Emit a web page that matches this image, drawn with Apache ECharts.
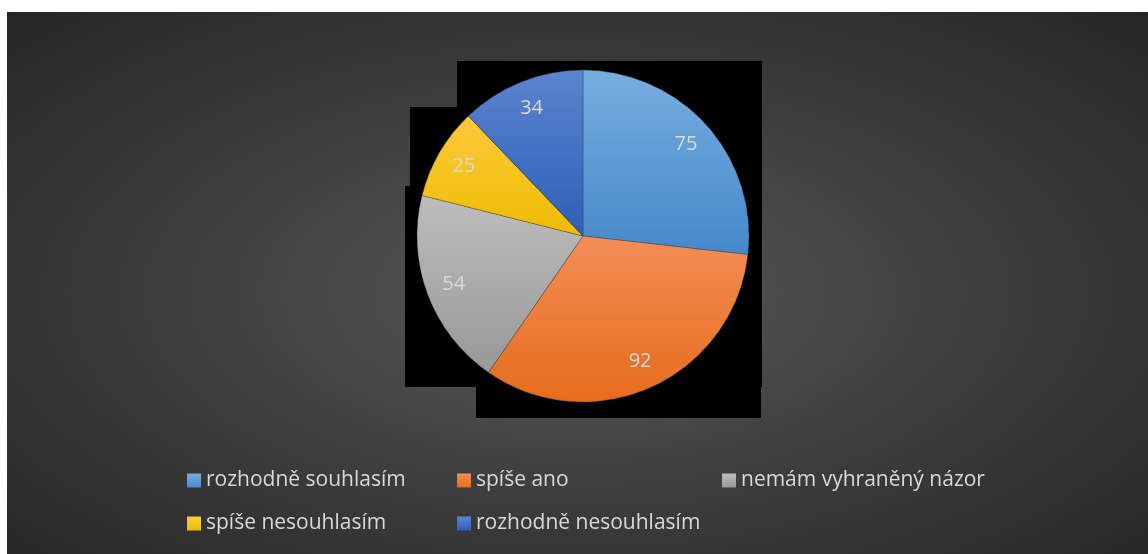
<!DOCTYPE html>
<html>
<head>
<meta charset="utf-8">
<script src="https://cdn.jsdelivr.net/npm/echarts@6/dist/echarts.min.js"></script>
<style>
  html, body { margin: 0; padding: 0; background: #fff; }
  #chart {
    position: absolute; left: 7px; top: 12px; width: 1141px; height: 542px;
    background: radial-gradient(ellipse farthest-corner at 50% 52%, #585858 0%, #3b3b3b 55%, #262626 100%);
  }
</style>
</head>
<body>
<div id="chart"></div>
<script>
  const categories = ['rozhodně souhlasím', 'spíše ano', 'nemám vyhraněný názor', 'spíše nesouhlasím', 'rozhodně nesouhlasím'];
  const values = [75, 92, 54, 25, 34];
  // top / bottom colour of each slice gradient
  const sliceColors = [
    ['#77aee0', '#4588c9'],
    ['#f38e57', '#e66c1b'],
    ['#bdbdbd', '#989898'],
    ['#ffc93c', '#eebc00'],
    ['#5b84cf', '#2e5eb8']
  ];

  const grad = (i) => new echarts.graphic.LinearGradient(0, 0, 0, 1, [
    { offset: 0, color: sliceColors[i][0] },
    { offset: 1, color: sliceColors[i][1] }
  ]);

  const chart = echarts.init(document.getElementById('chart'));
  const font = '"Open Sans", "Noto Sans", sans-serif';

  // one legend per entry so they sit in fixed columns like the original
  const colLeft = [180, 450, 715];
  const rowTop = [458, 501];
  const legends = categories.map((name, i) => ({
    data: [name],
    left: colLeft[i % 3],
    top: rowTop[Math.floor(i / 3)],
    padding: 0,
    itemWidth: 14, itemHeight: 14,
    icon: 'rect',
    itemStyle: { borderWidth: 0 },
    textStyle: { color: '#d9d9d9', fontSize: 21, fontFamily: font }
  }));

  chart.setOption({
    backgroundColor: 'transparent',
    animation: false,
    // black boxes that sit behind the pie in the original
    graphic: {
      elements: [
        { type: 'rect', z: 0, shape: { x: 450, y: 49, width: 305, height: 326 }, style: { fill: '#000' } },
        { type: 'rect', z: 0, shape: { x: 403, y: 95, width: 48, height: 280 }, style: { fill: '#000' } },
        { type: 'rect', z: 0, shape: { x: 398, y: 174, width: 6, height: 201 }, style: { fill: '#000' } },
        { type: 'rect', z: 0, shape: { x: 469, y: 374, width: 285, height: 32 }, style: { fill: '#000' } }
      ]
    },
    legend: legends,
    series: [
      {
        type: 'pie',
        center: [576, 224],
        radius: [0, 166],
        startAngle: 90,
        clockwise: true,
        label: { show: false },
        labelLine: { show: false },
        itemStyle: { borderColor: 'rgba(60,60,60,0.6)', borderWidth: 0.6 },
        emphasis: { disabled: true },
        data: categories.map((name, i) => ({ name, value: values[i], itemStyle: { color: grad(i) } }))
      },
      {
        // transparent ring only used to place the value labels
        type: 'pie',
        center: [576, 224],
        radius: [110, 160],
        startAngle: 90,
        clockwise: true,
        silent: true,
        itemStyle: { color: 'rgba(0,0,0,0)' },
        label: {
          show: true,
          position: 'inside',
          formatter: '{c}',
          color: '#d9d9d9',
          fontSize: 20,
          fontFamily: font
        },
        labelLine: { show: false },
        emphasis: { disabled: true },
        data: categories.map((name, i) => ({ name, value: values[i] }))
      }
    ]
  });
</script>
</body>
</html>
